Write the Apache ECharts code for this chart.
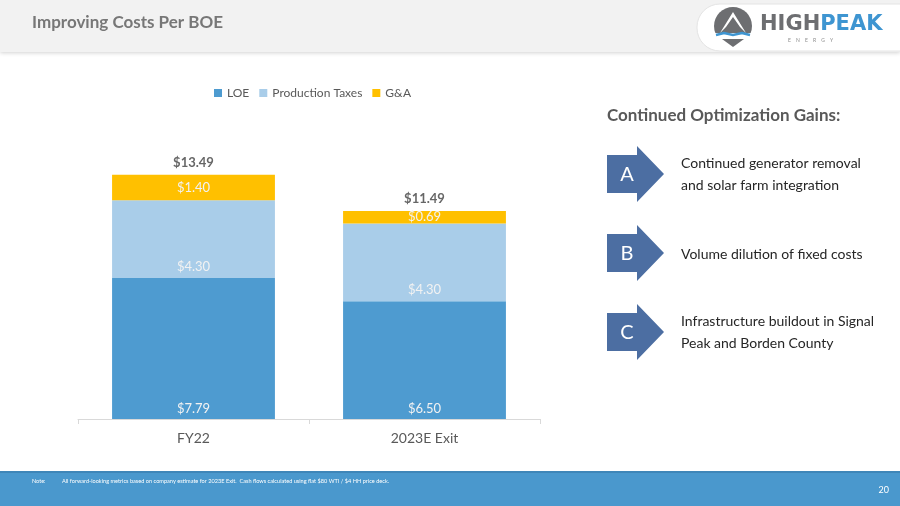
<!DOCTYPE html>
<html>
<head>
<meta charset="utf-8">
<script src="https://cdn.jsdelivr.net/npm/echarts@6/dist/echarts.min.js"></script>
<style>
html,body{margin:0;padding:0;background:#fff;}
#c{width:900px;height:506px;}
</style>
</head>
<body>
<div id="c"></div>
<script>
var categories = ['FY22', '2023E Exit'];
var loe = [7.79, 6.50];
var prodTaxes = [4.30, 4.30];
var ga = [1.40, 0.69];
var totals = [13.49, 11.49];
var seriesNames = ['LOE', 'Production Taxes', 'G&A'];
var gains = [
  {letter: 'A', lines: ['Continued generator removal', 'and solar farm integration']},
  {letter: 'B', lines: ['Volume dilution of fixed costs']},
  {letter: 'C', lines: ['Infrastructure buildout in Signal', 'Peak and Borden County']}
];

var FONT = 'Lato';
var chart = echarts.init(document.getElementById('c'), null, {renderer: 'canvas'});

function money(v) { return '$' + v.toFixed(2); }

var graphics = [];
// header
graphics.push({type: 'rect', shape: {x: 0, y: 0, width: 900, height: 52}, style: {fill: '#F2F2F2', shadowBlur: 4, shadowColor: 'rgba(0,0,0,0.18)', shadowOffsetY: 1}, z: 1});
graphics.push({type: 'text', x: 32, y: 23, style: {text: 'Improving Costs Per BOE', font: 'bold 17px ' + FONT, fill: '#777777', verticalAlign: 'middle'}, z: 5});
// logo pill
graphics.push({type: 'rect', shape: {x: 697, y: 4, width: 230, height: 47, r: 23}, style: {fill: '#FFFFFF', stroke: '#E4E4E4', lineWidth: 1}, z: 2});
// logo icon
graphics.push({type: 'circle', shape: {cx: 733, cy: 26, r: 19}, style: {fill: '#6D6E71'}, z: 3});
graphics.push({type: 'polygon', shape: {points: [[720, 33], [733, 12], [746, 33], [740, 27], [733, 17], [726, 27]]}, style: {fill: '#FFFFFF'}, z: 4});
graphics.push({type: 'rect', shape: {x: 712, y: 33, width: 42, height: 12}, style: {fill: '#FFFFFF'}, z: 4});
graphics.push({type: 'polyline', shape: {points: [[716, 35], [724, 33], [733, 35], [742, 33], [750, 35]]}, style: {stroke: '#3E95D1', lineWidth: 2.5, fill: null}, z: 5});
graphics.push({type: 'polygon', shape: {points: [[722, 39], [744, 39], [733, 47]]}, style: {fill: '#6D6E71'}, z: 5});
graphics.push({type: 'text', x: 760, y: 25, style: {text: '{h|HIGH}{p|PEAK}', rich: {h: {font: 'bold 21px "DejaVu Sans"', fill: '#6D6E71'}, p: {font: 'bold 21px "DejaVu Sans"', fill: '#3E95D1'}}, verticalAlign: 'middle'}, z: 5});
graphics.push({type: 'text', x: 788, y: 40, style: {text: 'E    N    E    R    G    Y', font: '5px ' + FONT, fill: '#8C8C8C', verticalAlign: 'middle'}, z: 5});

// right panel
graphics.push({type: 'text', x: 607, y: 116, style: {text: 'Continued Optimization Gains:', font: 'bold 17px ' + FONT, fill: '#595959', verticalAlign: 'middle'}, z: 5});
var centers = [174, 253, 332];
gains.forEach(function (g, i) {
  var cy = centers[i];
  graphics.push({type: 'polygon', shape: {points: [[607, cy - 19], [637, cy - 19], [637, cy - 28], [664, cy], [637, cy + 28], [637, cy + 19], [607, cy + 19]]}, style: {fill: '#4C6EA2'}, z: 5});
  graphics.push({type: 'text', x: 627, y: cy + 1, style: {text: g.letter, font: '20px ' + FONT, fill: '#FFFFFF', align: 'center', verticalAlign: 'middle'}, z: 6});
  var n = g.lines.length;
  g.lines.forEach(function (ln, j) {
    var y = n === 1 ? cy + 1 : cy - 11 + j * 22;
    graphics.push({type: 'text', x: 681, y: y, style: {text: ln, font: '14px ' + FONT, fill: '#262626', verticalAlign: 'middle'}, z: 6});
  });
});

// footer
graphics.push({type: 'rect', shape: {x: 0, y: 472, width: 900, height: 34}, style: {fill: '#4A98CD'}, z: 1});
graphics.push({type: 'rect', shape: {x: 0, y: 471, width: 900, height: 2}, style: {fill: '#3F86B8'}, z: 2});
graphics.push({type: 'text', x: 32, y: 481, style: {text: 'Note:', font: '5.5px ' + FONT, fill: '#FFFFFF', verticalAlign: 'middle'}, z: 5});
graphics.push({type: 'text', x: 62, y: 481, style: {text: 'All forward-looking metrics based on company estimate for 2023E Exit.  Cash flows calculated using flat $80 WTI / $4 HH price deck.', font: '5.6px ' + FONT, fill: '#FFFFFF', verticalAlign: 'middle'}, z: 5});
graphics.push({type: 'text', x: 889, y: 490, style: {text: '20', font: '9px ' + FONT, fill: '#FFFFFF', align: 'right', verticalAlign: 'middle'}, z: 5});

var segLabel = function (pos, dist) {
  return {show: true, position: pos, distance: dist, color: '#F2F2F2', fontFamily: FONT, fontSize: 13,
    formatter: function (p) { return money(p.value); }};
};

var option = {
  animation: false,
  backgroundColor: '#FFFFFF',
  textStyle: {fontFamily: FONT},
  legend: {
    data: seriesNames,
    top: 82, left: 209, itemWidth: 8, itemHeight: 8, itemGap: 10,
    icon: 'rect',
    textStyle: {color: '#595959', fontSize: 12, fontFamily: FONT}
  },
  grid: {left: 78, width: 462, top: 129.4, height: 289.6, containLabel: false},
  xAxis: {
    type: 'category', data: categories,
    axisLine: {lineStyle: {color: '#D9D9D9'}},
    axisTick: {show: true, length: 5, lineStyle: {color: '#D9D9D9'}},
    axisLabel: {color: '#595959', fontSize: 14, fontFamily: FONT, margin: 12}
  },
  yAxis: {type: 'value', min: 0, max: 16, show: false, splitLine: {show: false}},
  series: [
    {name: 'LOE', type: 'bar', stack: 'c', data: loe, barWidth: '70.5%', itemStyle: {color: '#4E9BD0'}, label: segLabel('insideBottom', 4)},
    {name: 'Production Taxes', type: 'bar', stack: 'c', data: prodTaxes, itemStyle: {color: '#A9CDE9'}, label: segLabel('insideBottom', 5)},
    {name: 'G&A', type: 'bar', stack: 'c', data: ga, itemStyle: {color: '#FFC000'}, label: segLabel('inside', 0)},
    {name: 'Total', type: 'scatter', data: totals, symbolSize: 0, silent: true,
      label: {show: true, position: 'top', distance: 6, color: '#404040', fontWeight: 'bold', fontSize: 13, fontFamily: FONT,
        formatter: function (p) { return money(p.value); }}}
  ],
  graphic: {elements: graphics}
};
chart.setOption(option);
</script>
</body>
</html>
